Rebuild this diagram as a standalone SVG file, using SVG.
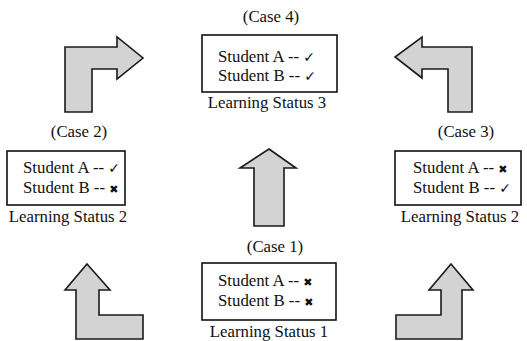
<svg xmlns="http://www.w3.org/2000/svg" width="527" height="341" viewBox="0 0 527 341">
  <style>
    .box { fill: #ffffff; stroke: #111111; stroke-width: 1.6; }
    .arrow { fill: #d3d3d3; stroke: #1a1a1a; stroke-width: 1.6; stroke-linejoin: miter; }
    text { font-family: "Liberation Serif", "Times New Roman", serif; font-size: 16.8px; fill: #111111; }
    .mid { text-anchor: middle; }
    .mark { font-family: "DejaVu Sans", sans-serif; font-size: 14px; }
    .cross { font-family: "DejaVu Sans", sans-serif; font-size: 11px; }
  </style>

  <rect width="527" height="341" fill="#ffffff"/>

  <!-- block arrows between learning states -->
  <g id="connectors">
    <path class="arrow" d="M65,47 H117 V37 L143,58 L117,79 V69 H92 V112 H65 Z"/>
    <path class="arrow" d="M472,47 H422 V37 L395,57 L422,78 V69 H448 V112 H472 Z"/>
    <path class="arrow" d="M87,264 L110,290 H99 V315 H143 V339 H76 V290 H65 Z"/>
    <path class="arrow" d="M451,264 L473,290 H462 V339 H396 V315 H441 V290 H429 Z"/>
    <path class="arrow" d="M269,149 L296,168 H284 V226 H254 V168 H240 Z"/>
  </g>

  <!-- Case 4: both students passed -->
  <g id="case4">
    <text class="mid" x="271" y="22">(Case 4)</text>
    <rect class="box" x="202" y="35" width="135" height="57"/>
    <text x="218" y="62">Student A -- <tspan class="mark">✓</tspan></text>
    <text x="218" y="81">Student B -- <tspan class="mark">✓</tspan></text>
    <text class="mid" x="267" y="108">Learning Status 3</text>
  </g>

  <!-- Case 2: only student A passed -->
  <g id="case2">
    <text class="mid" x="79" y="137">(Case 2)</text>
    <rect class="box" x="7" y="151" width="118" height="54"/>
    <text x="23" y="173">Student A -- <tspan class="mark">✓</tspan></text>
    <text x="23" y="193">Student B -- <tspan class="cross">✖</tspan></text>
    <text class="mid" x="68" y="222">Learning Status 2</text>
  </g>

  <!-- Case 3: only student B passed -->
  <g id="case3">
    <text class="mid" x="466" y="137">(Case 3)</text>
    <rect class="box" x="395" y="151" width="126" height="54"/>
    <text x="413" y="173">Student A -- <tspan class="cross">✖</tspan></text>
    <text x="413" y="193">Student B -- <tspan class="mark">✓</tspan></text>
    <text class="mid" x="460" y="222">Learning Status 2</text>
  </g>

  <!-- Case 1: neither student passed -->
  <g id="case1">
    <text class="mid" x="275" y="252">(Case 1)</text>
    <rect class="box" x="202" y="263" width="134" height="57"/>
    <text x="218" y="286">Student A -- <tspan class="cross">✖</tspan></text>
    <text x="218" y="306">Student B -- <tspan class="cross">✖</tspan></text>
    <text class="mid" x="269" y="337">Learning Status 1</text>
  </g>
</svg>
